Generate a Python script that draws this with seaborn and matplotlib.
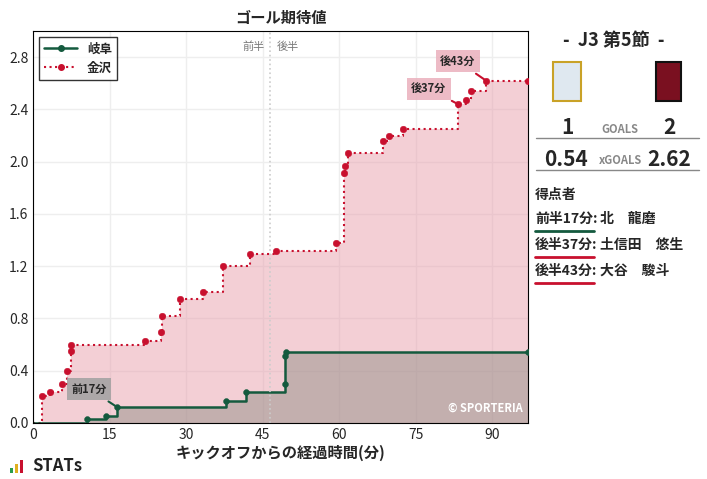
import matplotlib
matplotlib.use("Agg")
import matplotlib.pyplot as plt
import seaborn as sns
import pandas as pd
from matplotlib.lines import Line2D

sns.set_style("white")
plt.rcParams['font.family'] = ['Noto Sans CJK JP', 'DejaVu Sans']

kanazawa_min = [0, 1.7, 3.2, 5.7, 6.7, 7.5, 7.5, 22, 25.1, 25.3, 28.8, 33.2, 37.1, 42.4, 47.6,
                59.4, 61.0, 61.2, 61.6, 68.6, 69.8, 72.4, 83.3, 84.9, 85.9, 88.8, 97]
kanazawa_xg = [0, 0.21, 0.24, 0.30, 0.40, 0.55, 0.60, 0.63, 0.70, 0.82, 0.95, 1.00, 1.20, 1.29, 1.32,
               1.38, 1.91, 1.97, 2.07, 2.16, 2.20, 2.25, 2.44, 2.47, 2.54, 2.62, 2.62]
gifu_min = [0, 10.6, 14.3, 16.5, 37.8, 41.8, 49.4, 49.4, 49.5, 97]
gifu_xg = [0, 0.03, 0.05, 0.12, 0.17, 0.24, 0.30, 0.51, 0.54, 0.54]
xticks = [0, 15, 30, 45, 60, 75, 90]
yticks = [0.0, 0.4, 0.8, 1.2, 1.6, 2.0, 2.4, 2.8]

red = "#c8102e"
green = "#145a3e"

fig = plt.figure(figsize=(7.07, 4.79), dpi=100)
ax = fig.add_axes([0.047, 0.117, 0.700, 0.818])

dk = pd.DataFrame({"min": kanazawa_min, "xg": kanazawa_xg})
dg = pd.DataFrame({"min": gifu_min, "xg": gifu_xg})

ax.fill_between(dk["min"], dk["xg"], step="post", color="#e8a0ad", alpha=0.5, lw=0)
ax.fill_between(dg["min"], dg["xg"], step="post", color="#8a8a80", alpha=0.45, lw=0)
ax.step(dk["min"], dk["xg"], where="post", color=red, ls=":", lw=1.5)
ax.step(dg["min"], dg["xg"], where="post", color=green, lw=1.8)
sns.scatterplot(data=dk.iloc[1:], x="min", y="xg", color=red, s=22, edgecolor=red, ax=ax, zorder=5, legend=False)
sns.scatterplot(data=dg.iloc[1:], x="min", y="xg", color=green, s=18, edgecolor=green, ax=ax, zorder=5, legend=False)

ax.set_xlim(0, 97)
ax.set_ylim(0, 3.0)
ax.set_xticks(xticks)
ax.set_yticks(yticks)
ax.set_yticklabels([f"{v:.1f}" for v in yticks])
ax.grid(True, color="#eeeeee", lw=1)
ax.tick_params(direction="in", labelsize=10, length=3)
for s in ax.spines.values():
    s.set_color("black")
ax.axvline(46.5, color="#cccccc", ls=":", lw=1.2)
ax.text(45.3, 2.88, "前半", ha="right", va="center", fontsize=8, color="#777777")
ax.text(47.7, 2.88, "後半", ha="left", va="center", fontsize=8, color="#777777")
ax.set_title("ゴール期待値", fontsize=11, fontweight="bold", pad=6)
ax.set_xlabel("キックオフからの経過時間(分)", fontsize=11, fontweight="bold", labelpad=2)
ax.set_ylabel("")

def ann(txt, xy, xytext, fc, lc):
    ax.annotate(txt, xy=xy, xytext=xytext, fontsize=8, fontweight="bold", ha="center", va="center",
                bbox=dict(boxstyle="square,pad=0.4", fc=fc, ec="none", alpha=0.85),
                arrowprops=dict(arrowstyle="-", color=lc, lw=1.5), zorder=6)

ann("前17分", (16.5, 0.12), (11, 0.26), "#a0a0a0", green)
ann("後37分", (83.3, 2.44), (77.5, 2.56), "#eab0bc", red)
ann("後43分", (88.8, 2.62), (83.2, 2.77), "#eab0bc", red)

ax.text(96, 0.06, "© SPORTERIA", color="white", fontsize=8, fontweight="bold", ha="right", va="bottom")

handles = [Line2D([0], [0], color=green, lw=1.8, marker="o", ms=4),
           Line2D([0], [0], color=red, lw=1.5, ls=":", marker="o", ms=4)]
leg = ax.legend(handles, ["岐阜", "金沢"], loc="upper left", fontsize=9, frameon=True,
                fancybox=False, edgecolor="black", handlelength=2.6, prop={"weight": "bold", "size": 9})

# right panel
fig.text(0.868, 0.915, "-  J3 第5節  -", ha="center", va="center", fontsize=13, fontweight="bold")
fig.text(0.803, 0.733, "1", ha="center", va="center", fontsize=15, fontweight="bold")
fig.text(0.877, 0.730, "GOALS", ha="center", va="center", fontsize=8, fontweight="bold", color="#888888")
fig.text(0.947, 0.733, "2", ha="center", va="center", fontsize=15, fontweight="bold")
fig.add_artist(Line2D([0.758, 0.988], [0.712, 0.712], color="#888888", lw=1))
fig.text(0.800, 0.667, "0.54", ha="center", va="center", fontsize=15, fontweight="bold")
fig.text(0.877, 0.664, "xGOALS", ha="center", va="center", fontsize=8, fontweight="bold", color="#888888")
fig.text(0.947, 0.667, "2.62", ha="center", va="center", fontsize=15, fontweight="bold")
fig.add_artist(Line2D([0.758, 0.988], [0.645, 0.645], color="#888888", lw=1))
fig.text(0.757, 0.593, "得点者", ha="left", va="center", fontsize=10, fontweight="bold")
scorers = [("前半17分:", "北　龍磨", green), ("後半37分:", "土信田　悠生", red), ("後半43分:", "大谷　駿斗", red)]
for i, (t, n, c) in enumerate(scorers):
    yy = 0.543 - i * 0.054
    fig.text(0.757, yy, t, ha="left", va="center", fontsize=10, fontweight="bold")
    fig.text(0.848, yy, n, ha="left", va="center", fontsize=10, fontweight="bold")
    fig.add_artist(Line2D([0.757, 0.840], [yy - 0.025, yy - 0.025], color=c, lw=2))

# simple logo placeholders
fig.patches.append(plt.Rectangle((0.782, 0.79), 0.04, 0.08, transform=fig.transFigure, fc="#dfe8f0", ec="#c9a227", lw=1.5))
fig.patches.append(plt.Rectangle((0.928, 0.79), 0.035, 0.08, transform=fig.transFigure, fc="#7a1020", ec="#111111", lw=1.5))

# footer
for i, (h, c) in enumerate([(0.012, "#2a9d4a"), (0.02, "#e0b020"), (0.028, "#c8102e")]):
    fig.patches.append(plt.Rectangle((0.014 + i * 0.007, 0.012), 0.005, h, transform=fig.transFigure, fc=c, ec="none"))
fig.text(0.045, 0.027, "STATs", ha="left", va="center", fontsize=12, fontweight="bold", color="#222222")

fig.savefig("out.png", dpi=100)
